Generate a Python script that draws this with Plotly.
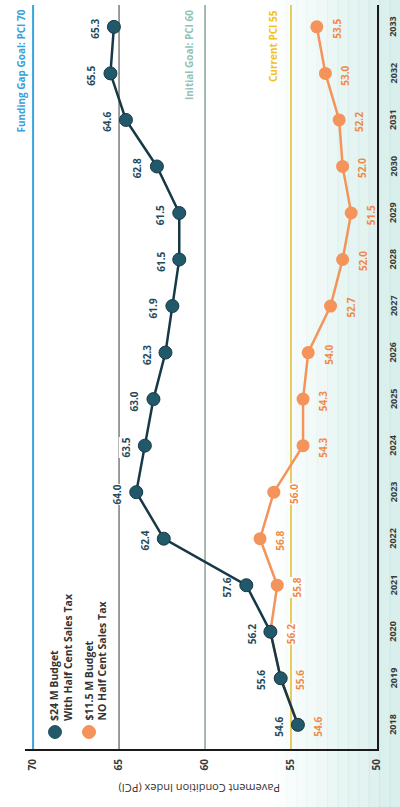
import plotly.graph_objects as go

# ---------------- data ----------------
years = list(range(2018, 2034))
with_tax = [54.6, 55.6, 56.2, 57.6, 62.4, 64.0, 63.5, 63.0, 62.3, 61.9, 61.5, 61.5, 62.8, 64.6, 65.5, 65.3]
no_tax = [54.6, 55.6, 56.2, 55.8, 56.8, 56.0, 54.3, 54.3, 54.0, 52.7, 52.0, 51.5, 52.0, 52.2, 53.0, 53.5]
series_names = ["$24 M Budget<br>With Half Cent Sales Tax", "$11.5 M Budget<br>NO Half Cent Sales Tax"]
pci_ticks = [70, 65, 60, 55, 50]
ref_values = [70, 65, 60, 55]
ref_labels = ["Funding Gap Goal: PCI 70", "", "Initial Goal: PCI 60", "Current PCI 55"]
axis_title = "Pavement Condition Index (PCI)"

# ---------------- styles ----------------
BLUE_LINE = "#173846"
BLUE_MARK = "#22596a"
BLUE_TEXT = "#1f4b5b"
ORANGE = "#f4935a"
ORANGE_TEXT = "#f08a47"
ref_colors = ["#3aa3dc", "#7c7c7c", "#86a39b", "#e2bd22"]
ref_widths = [2, 1.5, 1.5, 1.5]
ref_text_colors = ["#3aa1da", "#7c7c7c", "#93c2b8", "#efc21e"]
ref_shift = [-13, 0, -16, -18]
FONT = "Open Sans"
TICK_COLOR = "#3a3a3a"

W, H = 400, 807
ML, MR, MT, MB = 25, 23, 5, 58
PW, PH = W - ML - MR, H - MT - MB

def px_x(p):
    return (p - ML) / PW

def px_y(p):
    return (H - MB - p) / PH

fig = go.Figure()

# background tint (photo paper tint on right side)
n_strips = 12
for i in range(n_strips):
    x0 = 275 + i * (125 / n_strips)
    x1 = x0 + 125 / n_strips + 1
    a = 0.05 + 0.55 * (i / (n_strips - 1))
    fig.add_shape(type="rect", xref="paper", yref="paper",
                  x0=px_x(x0), x1=px_x(x1), y0=px_y(H), y1=px_y(0),
                  fillcolor=f"rgba(190,228,222,{a:.3f})", line_width=0, layer="below")

# reference lines
for v, c, w in zip(ref_values, ref_colors, ref_widths):
    fig.add_shape(type="line", xref="x", yref="paper", x0=v, x1=v, y0=0, y1=1,
                  line=dict(color=c, width=w), layer="below")

for v, t, c, s in zip(ref_values, ref_labels, ref_text_colors, ref_shift):
    if t:
        fig.add_annotation(x=v, y=1, xref="x", yref="paper", text=t, showarrow=False,
                           textangle=-90, xanchor="center", yanchor="top", xshift=s, yshift=-3,
                           font=dict(family=FONT, size=10, color=c, weight="bold"))

# series
fig.add_trace(go.Scatter(x=no_tax, y=years, mode="lines+markers", name=series_names[1],
                         line=dict(color=ORANGE, width=2.5),
                         marker=dict(size=13, color=ORANGE), showlegend=False))
fig.add_trace(go.Scatter(x=with_tax, y=years, mode="lines+markers", name=series_names[0],
                         line=dict(color=BLUE_LINE, width=2.5),
                         marker=dict(size=13, color=BLUE_MARK, line=dict(color=BLUE_LINE, width=1)),
                         showlegend=False))

# data labels
def needs_bg(center):
    return any(abs(center - r) < 0.45 for r in ref_values)

for yv, v in zip(years, with_tax):
    center = v + 19 / 17.2
    fig.add_annotation(x=v, y=yv, text=f"{v:.1f}", showarrow=False, textangle=-90,
                       xshift=-19, yshift=-2, borderpad=0,
                       bgcolor="white" if needs_bg(center) else "rgba(0,0,0,0)",
                       font=dict(family=FONT, size=10, color=BLUE_TEXT, weight="bold"))
for yv, v in zip(years, no_tax):
    center = v - 20 / 17.2
    fig.add_annotation(x=v, y=yv, text=f"{v:.1f}", showarrow=False, textangle=-90,
                       xshift=20, yshift=-2, borderpad=0,
                       bgcolor="white" if needs_bg(center) else "rgba(0,0,0,0)",
                       font=dict(family=FONT, size=10, color=ORANGE_TEXT, weight="bold"))

# year labels along the (rotated) category axis on the right
for yv in years:
    fig.add_annotation(x=1, y=yv, xref="paper", yref="y", text=str(yv), showarrow=False,
                       textangle=-90, xanchor="center", yanchor="middle", xshift=16,
                       font=dict(family=FONT, size=9, color=TICK_COLOR, weight="bold"))

# legend (rotated, drawn manually)
leg = [(55, 61, BLUE_MARK, series_names[0]), (89, 95.5, ORANGE, series_names[1])]
for cx, tx, col, name in leg:
    fig.add_shape(type="circle", xref="paper", yref="paper",
                  xsizemode="pixel", ysizemode="pixel",
                  xanchor=px_x(cx), yanchor=px_y(732),
                  x0=-6.5, x1=6.5, y0=-6.5, y1=6.5,
                  fillcolor=col, line=dict(color=col, width=1))
    fig.add_annotation(x=px_x(tx), y=px_y(723), xref="paper", yref="paper", text=name,
                       showarrow=False, textangle=-90, align="left",
                       xanchor="center", yanchor="bottom",
                       font=dict(family=FONT, size=10.5, color="#333333", weight="bold"))

# axis title (upside down, as in the rotated photo)
fig.add_annotation(x=px_x(200), y=px_y(789), xref="paper", yref="paper", text=axis_title,
                   showarrow=False, textangle=180, xanchor="center", yanchor="middle",
                   font=dict(family=FONT, size=11, color="#333333"))

fig.update_layout(
    width=W, height=H,
    margin=dict(l=ML, r=MR, t=MT, b=MB),
    paper_bgcolor="white", plot_bgcolor="rgba(0,0,0,0)",
    font=dict(family=FONT),
    hovermode=False,
    xaxis=dict(range=[70.47, 50], tickvals=pci_ticks, ticktext=[str(t) for t in pci_ticks],
               tickangle=-90, showgrid=False, zeroline=False, showline=True,
               linecolor="#1a1a1a", linewidth=2, ticks="", ticklabelstandoff=4,
               automargin=False,
               tickfont=dict(family=FONT, size=10, color=TICK_COLOR, weight="bold")),
    yaxis=dict(range=[2017.48, 2033.47], showticklabels=False,
               side="right", showgrid=False, zeroline=False, showline=True,
               linecolor="#1a1a1a", linewidth=2, ticks="", automargin=False),
)

fig.write_html("out.html", config={"displayModeBar": False},
               post_script="document.body.style.margin='0';document.body.style.overflow='hidden';")
